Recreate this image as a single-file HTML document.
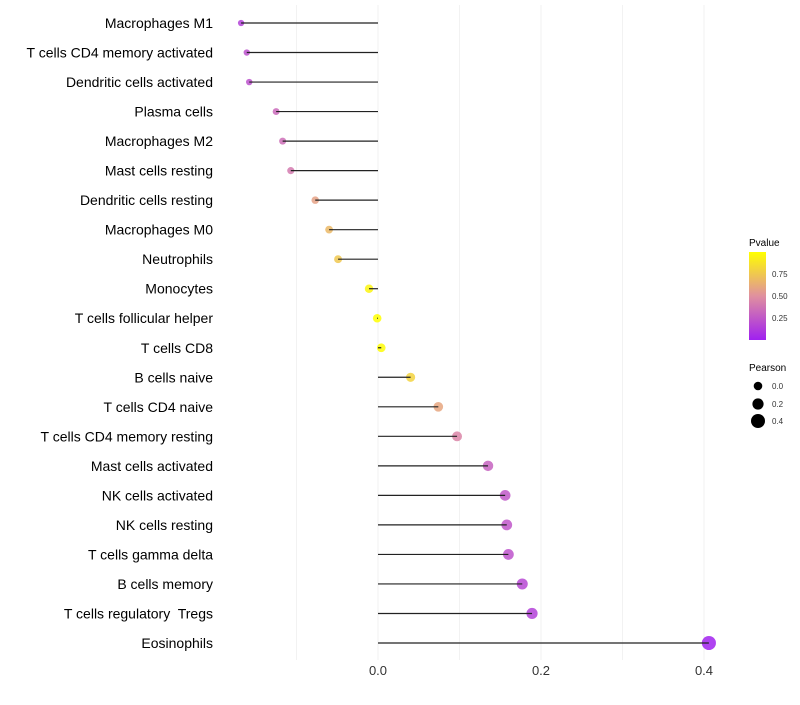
<!DOCTYPE html>
<html><head><meta charset="utf-8"><style>
body{margin:0;background:#fff;font-family:"Liberation Sans",sans-serif;}
text{white-space:pre;}
</style></head><body>
<svg id="c" width="800" height="700" xmlns="http://www.w3.org/2000/svg">
<defs><linearGradient id="pg" x1="0" y1="1" x2="0" y2="0">
<stop offset="0" stop-color="#a020f0"/><stop offset="0.5" stop-color="#e0909f"/><stop offset="1" stop-color="#ffff00"/>
</linearGradient></defs>
<g id="grid"></g><g id="marks"></g><g id="labels"></g><g id="ticks"></g>
<g>
<text x="749" y="246" font-size="10" fill="#000">Pvalue</text>
<rect x="749" y="252" width="17" height="88" fill="url(#pg)"/>
<text x="772" y="277" font-size="8" fill="#333">0.75</text>
<text x="772" y="299" font-size="8" fill="#333">0.50</text>
<text x="772" y="321" font-size="8" fill="#333">0.25</text>
</g>
<g>
<text x="749" y="371" font-size="10" fill="#000">Pearson</text>
<circle cx="758" cy="386" r="4.3" fill="#000"/><text x="772" y="389" font-size="8" fill="#333">0.0</text>
<circle cx="758" cy="404" r="5.6" fill="#000"/><text x="772" y="407" font-size="8" fill="#333">0.2</text>
<circle cx="758" cy="421" r="7" fill="#000"/><text x="772" y="424" font-size="8" fill="#333">0.4</text>
</g>
</svg>
<script>
const cells=["Macrophages M1","T cells CD4 memory activated","Dendritic cells activated","Plasma cells","Macrophages M2","Mast cells resting","Dendritic cells resting","Macrophages M0","Neutrophils","Monocytes","T cells follicular helper","T cells CD8","B cells naive","T cells CD4 naive","T cells CD4 memory resting","Mast cells activated","NK cells activated","NK cells resting","T cells gamma delta","B cells memory","T cells regulatory  Tregs","Eosinophils"];
const pearson=[-0.168,-0.161,-0.158,-0.125,-0.117,-0.107,-0.077,-0.060,-0.049,-0.011,-0.001,0.004,0.040,0.074,0.097,0.135,0.156,0.158,0.160,0.177,0.189,0.406];
const pvalue=[0.15,0.22,0.22,0.33,0.35,0.4,0.58,0.68,0.75,0.95,1.0,0.98,0.8,0.6,0.45,0.3,0.25,0.24,0.23,0.18,0.15,0.01];
const xticks=[0.0,0.2,0.4];
const NS="http://www.w3.org/2000/svg";
const X=v=>378+v*815;
const Y=i=>23+i*(620/21);
const R=v=>Math.max(1.5,4.3+6.8*v);
function col(p){const a=[160,32,240],m=[224,144,159],b=[255,255,0];let c;
 if(p<0.5){const t=p/0.5;c=a.map((v,k)=>v+(m[k]-v)*t);}else{const t=(p-0.5)/0.5;c=m.map((v,k)=>v+(b[k]-v)*t);}
 return `rgb(${c.map(Math.round).join(',')})`;}
function mk(tag,attrs,parent){const e=document.createElementNS(NS,tag);for(const k in attrs)e.setAttribute(k,attrs[k]);document.getElementById(parent).appendChild(e);return e;}
for(let g=-0.1;g<=0.45;g+=0.1){const l=mk('line',{x1:X(g),x2:X(g),y1:5,y2:660,stroke:'#f2f2f2','stroke-width':1},'grid');

}
cells.forEach((c,i)=>{
 const d=mk('circle',{cx:X(pearson[i]),cy:Y(i),r:R(pearson[i]),fill:col(pvalue[i]),'fill-opacity':0.85},'marks');
 
 
 const s=mk('line',{x1:X(0),x2:X(pearson[i]),y1:Y(i),y2:Y(i),stroke:'#222','stroke-width':1.2},'marks');
 
 
 const t=mk('text',{x:213,y:Y(i)+5,'text-anchor':'end','font-size':14,fill:'#000'},'labels');
 t.textContent=c;
 
 
});
xticks.forEach(v=>{const t=mk('text',{x:X(v),y:675,'text-anchor':'middle','font-size':13,fill:'#333'},'ticks');
 t.textContent=v.toFixed(1);
 
 });
</script>
</body></html>
